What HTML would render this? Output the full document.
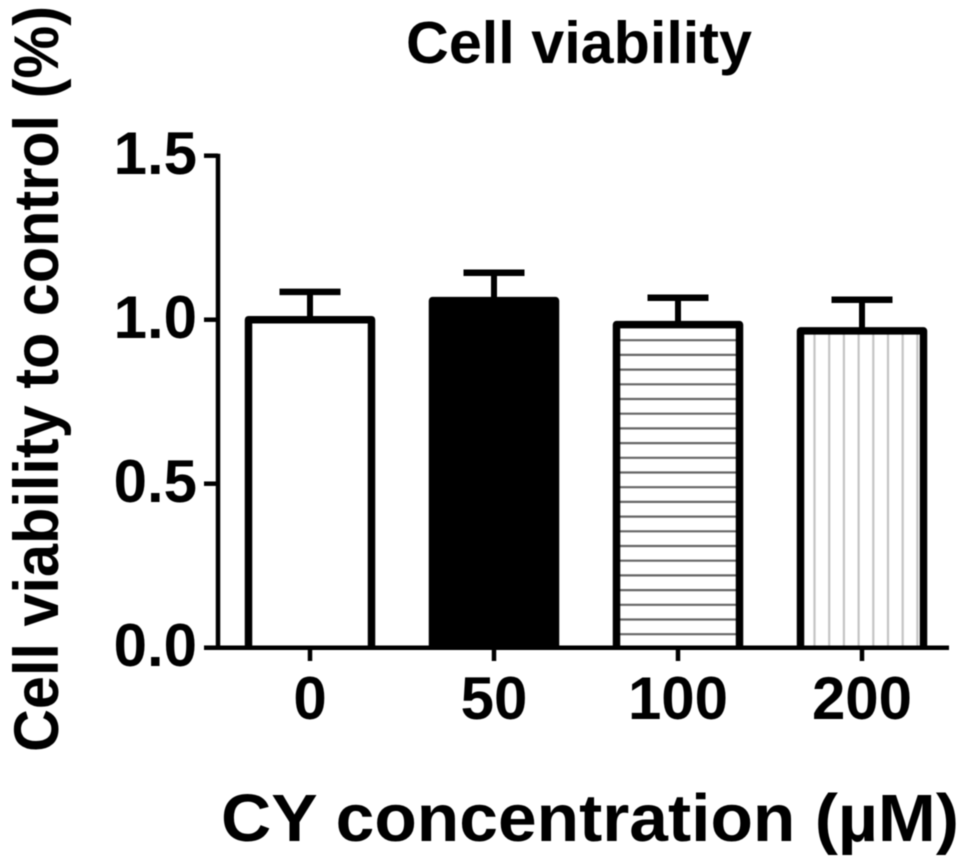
<!DOCTYPE html>
<html>
<head>
<meta charset="utf-8">
<title>Cell viability</title>
<style>
html,body{margin:0;padding:0;background:#fff;}
svg{display:block;filter:blur(0.5px);}
text{font-family:"Liberation Sans",Arial,sans-serif;font-weight:700;fill:#000;}
</style>
</head>
<body>
<svg id="chart" xmlns="http://www.w3.org/2000/svg" width="969" height="868" viewBox="0 0 969 868">
<rect width="969" height="868" fill="#fff"/>
<text x="579" y="63" font-size="59" text-anchor="middle" textLength="346" lengthAdjust="spacingAndGlyphs">Cell viability</text>
<text transform="translate(58,752) rotate(-90) scale(1,1.05)" font-size="60" textLength="746" lengthAdjust="spacingAndGlyphs">Cell viability to control (%)</text>
<text x="221" y="841" font-size="67" textLength="738" lengthAdjust="spacingAndGlyphs">CY concentration (µM)</text>
</svg>
<script>
const categories = ['0', '50', '100', '200'];
const barValues = [1.0, 1.058, 0.985, 0.966];
const errorTops = [1.085, 1.143, 1.067, 1.061];
const barFills = ['empty', 'solid', 'horizontal', 'vertical'];
const yTickValues = [0, 0.5, 1.0, 1.5];
const yTickLabels = ['0.0', '0.5', '1.0', '1.5'];

const NS = 'http://www.w3.org/2000/svg';
const svg = document.getElementById('chart');
const y = v => 647.7 - v * 328;
const x = i => 310 + i * 184;
const BAR_W = 123, CAP_W = 61, HATCH = 14.7, INK = '#000';

function mk(tag, attrs) {
  const el = document.createElementNS(NS, tag);
  for (const k in attrs) el.setAttribute(k, attrs[k]);
  return el;
}
function line(parent, a, b, c, d, color, width, cap) {
  const el = mk('line', {x1: a, y1: b, x2: c, y2: d, stroke: color, 'stroke-width': width, 'stroke-linecap': cap || 'butt'});
  parent.appendChild(el);
  return el;
}

categories.forEach((cat, i) => {
  const g = mk('g', {});
  
  
  const cx = x(i), l = cx - BAR_W / 2, r = cx + BAR_W / 2, t = y(barValues[i]), b = y(0);

  const err = mk('g', {});
  
  
  line(err, cx, t, cx, y(errorTops[i]), INK, 6);
  line(err, cx - CAP_W / 2, y(errorTops[i]), cx + CAP_W / 2, y(errorTops[i]), INK, 6.5);
  g.appendChild(err);

  const fill = barFills[i] === 'solid' ? INK : '#fff';
  g.appendChild(mk('rect', {x: l, y: t, width: BAR_W, height: b - t, fill: fill}));

  if (barFills[i] === 'horizontal') {
    for (let p = b - 13.5; p > t + 5; p -= HATCH) line(g, l, p, r, p, '#666', 2.2);
  }
  if (barFills[i] === 'vertical') {
    for (let p = l + 14; p < r - 5; p += HATCH) line(g, p, t, p, b, '#c4c4c4', 2.2);
  }
  const outline = mk('path', {
    d: 'M' + l + ' ' + b + 'V' + t + 'H' + r + 'V' + b,
    fill: 'none', stroke: INK, 'stroke-width': 7.5, 'stroke-linejoin': 'round'
  });
  g.appendChild(outline);
  svg.appendChild(g);
});

const yAxis = mk('g', {});


line(yAxis, 218, y(1.5) - 2, 218, y(0) + 2, INK, 4.5);
yTickValues.forEach((v, i) => {
  line(yAxis, 204, y(v), 218, y(v), INK, 4.5);
  const label = mk('text', {x: 197, y: y(v) + 18.5, 'font-size': 60, 'text-anchor': 'end'});
  
  
  label.textContent = yTickLabels[i];
  yAxis.appendChild(label);
});
svg.appendChild(yAxis);

const xAxis = mk('g', {});


line(xAxis, 204, y(0), 949, y(0), INK, 4.5);
categories.forEach((cat, i) => {
  line(xAxis, x(i), y(0), x(i), 661, INK, 4.5);
  const label = mk('text', {x: x(i), y: 719, 'font-size': 60, 'text-anchor': 'middle'});
  
  
  label.textContent = cat;
  xAxis.appendChild(label);
});
svg.appendChild(xAxis);
</script>
</body>
</html>
